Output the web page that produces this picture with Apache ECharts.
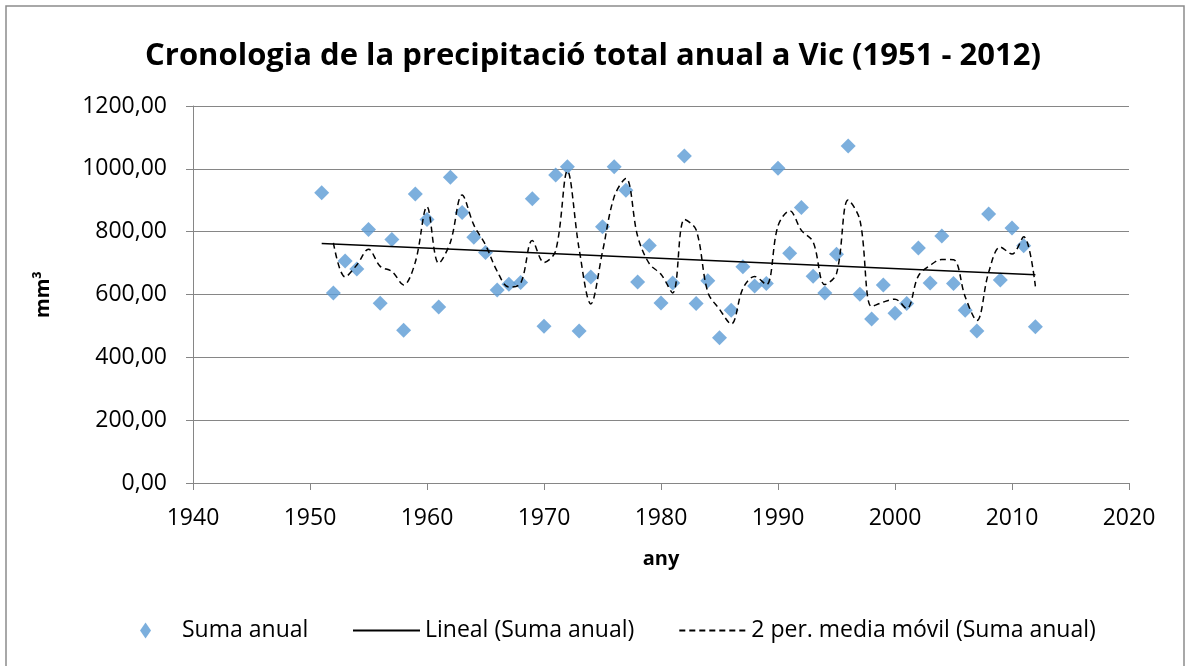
<!DOCTYPE html>
<html>
<head>
<meta charset="utf-8">
<script src="https://cdn.jsdelivr.net/npm/echarts@6/dist/echarts.min.js"></script>
<style>
  html, body { margin: 0; padding: 0; background: #fff; }
  #chart { width: 1186px; height: 666px; }
</style>
</head>
<body>
<div id="chart"></div>
<script>
// annual precipitation at Vic
var years = [1951, 1952, 1953, 1954, 1955, 1956, 1957, 1958, 1959, 1960,
             1961, 1962, 1963, 1964, 1965, 1966, 1967, 1968, 1969, 1970,
             1971, 1972, 1973, 1974, 1975, 1976, 1977, 1978, 1979, 1980,
             1981, 1982, 1983, 1984, 1985, 1986, 1987, 1988, 1989, 1990,
             1991, 1992, 1993, 1994, 1995, 1996, 1997, 1998, 1999, 2000,
             2001, 2002, 2003, 2004, 2005, 2006, 2007, 2008, 2009, 2010,
             2011, 2012];
var sumaAnual = [924, 605, 707, 681, 807, 572, 775, 486, 920, 839,
                 560, 973, 861, 782, 734, 614, 633, 638, 905, 499,
                 980, 1007, 484, 656, 816, 1007, 932, 640, 756, 573,
                 637, 1041, 571, 644, 462, 550, 688, 627, 635, 1002,
                 731, 877, 658, 605, 728, 1073, 601, 522, 630, 540,
                 571, 748, 637, 786, 635, 550, 484, 856, 646, 812,
                 755, 497];
var xTicks = [1940, 2020, 10];
var yTicks = [0, 1200, 200];

var FONT = 'Open Sans';

// scatter points
var points = years.map(function (y, i) { return [y, sumaAnual[i]]; });

// linear trend (least squares)
var n = years.length, sx = 0, sy = 0, sxx = 0, sxy = 0;
for (var i = 0; i < n; i++) {
    sx += years[i]; sy += sumaAnual[i];
    sxx += years[i] * years[i]; sxy += years[i] * sumaAnual[i];
}
var slope = (n * sxy - sx * sy) / (n * sxx - sx * sx);
var icpt = (sy - slope * sx) / n;
var trend = [years[0], years[n - 1]].map(function (y) { return [y, icpt + slope * y]; });

// 2 period moving average
var movAvg = [];
for (var j = 1; j < n; j++) {
    movAvg.push([years[j], (sumaAnual[j] + sumaAnual[j - 1]) / 2]);
}

var legendText = { fontFamily: FONT, fontSize: 23, color: '#000' };

var chart = echarts.init(document.getElementById('chart'));
chart.setOption({
    animation: false,
    backgroundColor: '#fff',
    textStyle: { fontFamily: FONT },
    graphic: [{
        type: 'rect',
        shape: { x: 6, y: 6, width: 1178, height: 700 },
        style: { fill: 'none', stroke: '#8c8c8c', lineWidth: 1.5 },
        silent: true
    }],
    title: {
        text: 'Cronologia de la precipitació total anual a Vic (1951 - 2012)',
        left: 'center',
        top: 36,
        textStyle: { fontFamily: FONT, fontSize: 31, fontWeight: 'bold', color: '#000' }
    },
    grid: { left: 193, right: 57, top: 106, bottom: 183 },
    legend: [{
        top: 614,
        left: 135,
        itemWidth: 11,
        itemHeight: 16,
        textStyle: Object.assign({ padding: [0, 0, 0, 26] }, legendText),
        data: ['Suma anual']
    }, {
        top: 614,
        left: 347,
        itemWidth: 67,
        itemHeight: 14,
        itemGap: 44,
        textStyle: legendText,
        data: [
            { name: 'Lineal (Suma anual)', itemStyle: { opacity: 0 } },
            { name: '2 per. media móvil (Suma anual)', itemStyle: { opacity: 0 } }
        ]
    }],
    xAxis: {
        type: 'value',
        min: xTicks[0], max: xTicks[1], interval: xTicks[2],
        name: 'any',
        nameLocation: 'middle',
        nameGap: 66,
        nameTextStyle: { fontFamily: FONT, fontSize: 20, fontWeight: 'bold', color: '#000' },
        axisLine: { lineStyle: { color: '#868686', width: 1 } },
        axisTick: { show: true, length: 7, lineStyle: { color: '#868686' } },
        axisLabel: {
            margin: 24, fontFamily: FONT, fontSize: 23, color: '#000',
            formatter: function (v) { return String(v); }
        },
        splitLine: { show: false }
    },
    yAxis: {
        type: 'value',
        min: yTicks[0], max: yTicks[1], interval: yTicks[2],
        name: 'mm³',
        nameLocation: 'middle',
        nameRotate: 90,
        nameGap: 140,
        nameTextStyle: { fontFamily: FONT, fontSize: 20, fontWeight: 'bold', color: '#000' },
        axisLine: { show: true, lineStyle: { color: '#868686', width: 1 } },
        axisTick: { show: true, length: 7, lineStyle: { color: '#868686' } },
        axisLabel: {
            margin: 26, fontFamily: FONT, fontSize: 23, color: '#000',
            formatter: function (v) { return v.toFixed(2).replace('.', ','); }
        },
        splitLine: { lineStyle: { color: '#868686', width: 1.2 } }
    },
    series: [
        {
            name: 'Suma anual',
            type: 'scatter',
            symbol: 'diamond',
            symbolSize: 15,
            itemStyle: { color: '#5b9bd5' },
            data: points,
            z: 3
        },
        {
            name: 'Lineal (Suma anual)',
            type: 'line',
            symbol: 'none',
            lineStyle: { color: '#000', width: 1.5 },
            itemStyle: { color: '#000' },
            data: trend,
            z: 4
        },
        {
            name: '2 per. media móvil (Suma anual)',
            type: 'line',
            symbol: 'none',
            smooth: 0.35,
            lineStyle: { color: '#000', width: 1.5, type: [6, 4] },
            itemStyle: { color: '#000' },
            data: movAvg,
            z: 4
        }
    ]
});
</script>
</body>
</html>
